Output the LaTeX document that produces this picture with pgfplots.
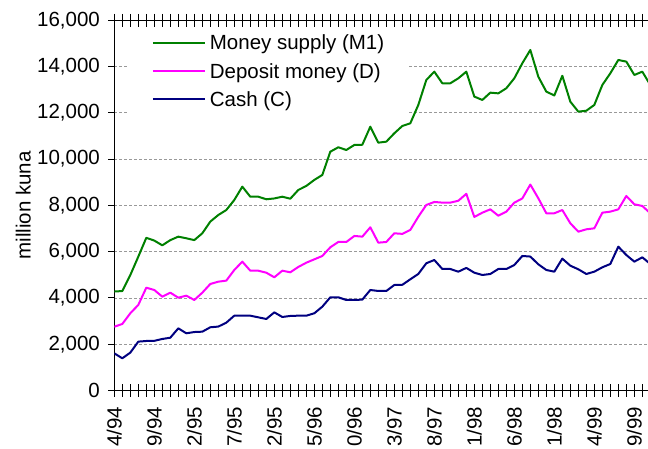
\documentclass[border=0pt]{standalone}
\usepackage{fontspec}
\setmainfont{Liberation Sans}
\usepackage{pgfplots}
\pgfplotsset{compat=1.18}
\usepackage{pgfplotstable}
\newcommand{\fs}{\fontsize{20.5}{24}\selectfont}
\definecolor{mgreen}{RGB}{0,128,0}
\definecolor{mmag}{RGB}{255,0,255}
\definecolor{mnavy}{RGB}{0,0,128}

% monthly data, month 0 = 4/94
\pgfplotstableread{
m  M1    D     C
0  4280  2760  1610
1  4300  2877  1395
2  4990  3340  1640
3  5785  3700  2115
4  6600  4445  2143
5  6480  4346  2150
6  6275  4057  2230
7  6500  4230  2285
8  6650  4013  2690
9  6580  4100  2475
10 6500  3914  2530
11 6795  4230  2545
12 7300  4605  2735
13 7585  4705  2765
14 7800  4750  2935
15 8235  5210  3236
16 8810  5570  3236
17 8376  5180  3236
18 8376  5180  3165
19 8264  5093  3093
20 8300  4894  3380
21 8376  5180  3180
22 8290  5110  3225
23 8666  5340  3236
24 8840  5525  3236
25 9100  5670  3340
26 9315  5815  3625
27 10320 6190  4030
28 10510 6420  4030
29 10394 6420  3914
30 10610 6680  3914
31 10620 6650  3930
32 11400 7054  4346
33 10710 6390  4303
34 10753 6420  4303
35 11115 6795  4562
36 11430 6770  4570
37 11547 6940  4808
38 12340 7510  5037
39 13418 8018  5500
40 13777 8148  5642
41 13275 8120  5253
42 13275 8120  5253
43 13490 8200  5137
44 13777 8500  5300
45 12700 7500  5093
46 12554 7685  4994
47 12870 7830  5037
48 12840 7555  5253
49 13060 7730  5253
50 13490 8118  5426
51 14140 8300  5815
52 14714 8900  5790
53 13560 8307  5455
54 12913 7660  5210
55 12750 7660  5137
56 13600 7800  5700
57 12480 7227  5396
58 12050 6865  5240
59 12090 6967  5037
60 12340 7010  5137
61 13200 7685  5325
62 13707 7730  5470
63 14282 7830  6217
64 14210 8407  5857
65 13634 8048  5570
66 13777 7975  5757
67 13200 7660  5470
}\money

\begin{document}
\begin{tikzpicture}
\begin{axis}[
  name=ax,
  scale only axis,
  width=535.7pt, height=370.4pt,
  xmin=0, xmax=66.96,
  ymin=0, ymax=16000,
  axis line style={line width=1pt},
  tick style={black, line width=1pt},
  xtick={0,5,...,65},
  xticklabels={4/94,9/94,2/95,7/95,2/95,5/96,0/96,3/97,8/97,1/98,6/98,1/98,4/99,9/99},
  minor xtick={0,...,66},
  xtick align=center,
  xtick style={/pgfplots/major tick length=12.7pt, /pgfplots/minor tick length=12.7pt},
  ytick={0,2000,...,16000},
  ytick align=outside,
  ytick style={/pgfplots/major tick length=6pt},
  scaled y ticks=false,
  /pgf/number format/.cd, 1000 sep={,}, assume math mode=true,
  /pgfplots/.cd,
  tick label style={font=\fs},
  xticklabel style={rotate=90, anchor=east, inner sep=0pt},
  xticklabel shift=14pt,
  yticklabel style={inner sep=0pt, xshift=-10pt},
  ymajorgrids,
  major grid style={dash pattern=on 3pt off 2pt, color=black!40, line width=0.9pt},
  ylabel={million kuna},
  every axis y label/.style={at={(axis description cs:-0.17,0.5)}, rotate=90, anchor=center, font=\fs},
  legend cell align=left,
  legend image code/.code={\draw[#1] (0pt,0pt) -- (52pt,0pt);},
  legend style={at={(0.025,0.9816)}, anchor=north west, draw=none, fill=white,
    font=\fs, inner xsep=24pt, inner ysep=4pt, row sep=5.7pt, column sep=3pt,
    nodes={inner sep=1pt, text height=17.6pt, text depth=3pt}},
]
\addplot[mgreen, line width=2pt, line join=round] table[x=m, y=M1] {\money};
\addplot[mmag, line width=2pt, line join=round] table[x=m, y=D] {\money};
\addplot[mnavy, line width=2pt, line join=round] table[x=m, y=C] {\money};
\legend{Money supply (M1), Deposit money (D), Cash (C)}
\end{axis}
\pgfresetboundingbox
\path[use as bounding box] (ax.south west) ++(-114.3pt,-58.4pt) rectangle ++(648pt,449pt);
\end{tikzpicture}
\end{document}
